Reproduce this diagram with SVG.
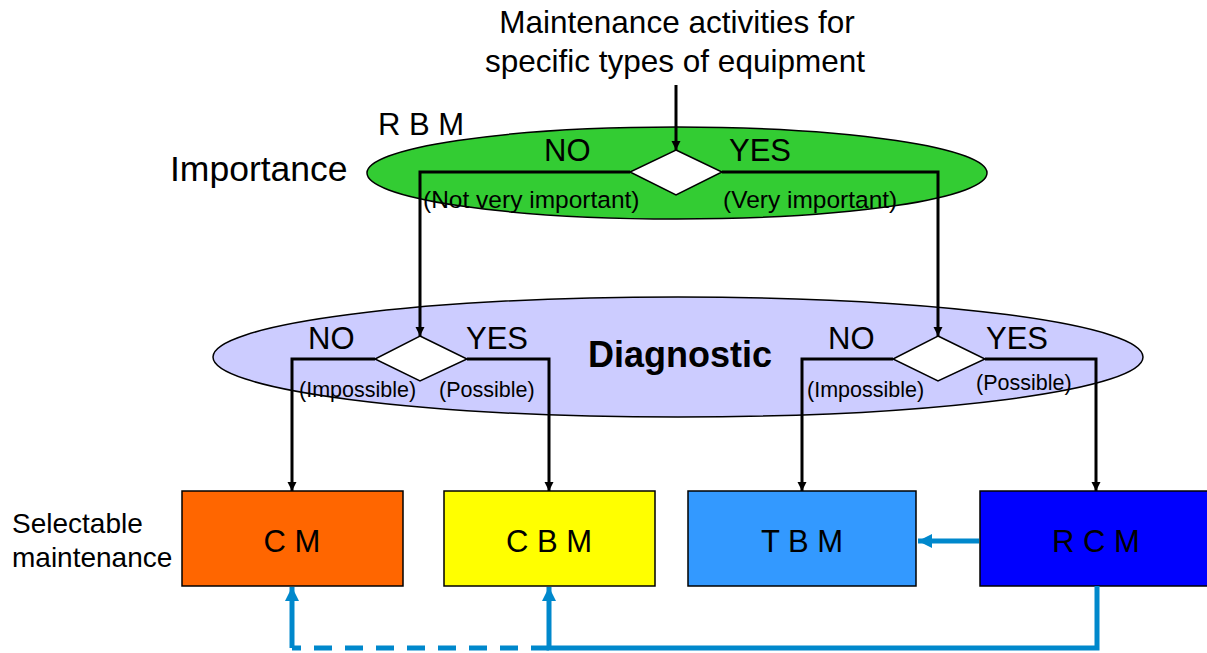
<svg xmlns="http://www.w3.org/2000/svg" width="1207" height="653" viewBox="0 0 1207 653">
<defs>
<style>
text{font-family:"Liberation Sans",Arial,sans-serif;fill:#000}
.conn{fill:none;stroke:#000;stroke-width:3}
.blue{fill:none;stroke:#0088CC;stroke-width:5}
.box{stroke:#000;stroke-width:1.5}
.dia{fill:#fff;stroke:#000;stroke-width:1.5}
.yn{font-size:31px}
.sub{font-size:24.5px}
.sub2{font-size:21.5px}
.bx{font-size:31px;text-anchor:middle}
</style>
<marker id="ab" viewBox="0 0 10 10" refX="10" refY="5" markerWidth="9" markerHeight="11" markerUnits="userSpaceOnUse" orient="auto"><path d="M0,0 L10,5 L0,10 Z" fill="#000"/></marker>
<marker id="ac" viewBox="0 0 10 10" refX="10" refY="5" markerWidth="16" markerHeight="14" markerUnits="userSpaceOnUse" orient="auto"><path d="M0,0 L10,5 L0,10 Z" fill="#0088CC"/></marker>
</defs>
<rect width="1207" height="653" fill="#fff"/>

<g id="title">
<text x="677" y="33" font-size="31.5" text-anchor="middle">Maintenance activities for</text>
<text x="675" y="72" font-size="31.5" text-anchor="middle">specific types of equipment</text>
</g>

<g id="importance">
<ellipse cx="677" cy="173" rx="310" ry="46" fill="#33CC33" stroke="#000" stroke-width="1.5"/>
<polygon class="dia" points="676,150 722,172 676,195 630,172"/>
<text x="378" y="135" font-size="31">R B M</text>
<text x="170" y="181" font-size="35.5">Importance</text>
<text class="yn" x="544" y="161">NO</text>
<text class="yn" x="729" y="161">YES</text>
<text class="sub" x="423" y="208">(Not very important)</text>
<text class="sub" x="723" y="208">(Very important)</text>
</g>

<g id="diagnostic">
<ellipse cx="678" cy="357" rx="465" ry="60" fill="#CCCCFF" stroke="#000" stroke-width="1.5"/>
<polygon class="dia" points="420,336 467,359 420,381 375,359"/>
<polygon class="dia" points="938,336 985,359 938,381 893,359"/>
<text x="680" y="367" font-size="36" font-weight="bold" text-anchor="middle">Diagnostic</text>
<text class="yn" x="308" y="349">NO</text>
<text class="yn" x="466" y="349">YES</text>
<text class="sub2" x="299" y="397">(Impossible)</text>
<text class="sub2" x="439" y="397">(Possible)</text>
<text class="yn" x="828" y="349">NO</text>
<text class="yn" x="986" y="349">YES</text>
<text class="sub2" x="807" y="397">(Impossible)</text>
<text class="sub2" x="976" y="390">(Possible)</text>
</g>

<g id="label-selectable">
<text x="12" y="533" font-size="28">Selectable</text>
<text x="12" y="567" font-size="28">maintenance</text>
</g>

<g id="cm">
<rect class="box" x="182" y="491" width="221" height="95" fill="#FF6600"/>
<text class="bx" x="292" y="552">C M</text>
</g>
<g id="cbm">
<rect class="box" x="444" y="491" width="211" height="95" fill="#FFFF00"/>
<text class="bx" x="549" y="552">C B M</text>
</g>
<g id="tbm">
<rect class="box" x="688" y="491" width="228" height="95" fill="#3399FF"/>
<text class="bx" x="802" y="552">T B M</text>
</g>
<g id="rcm">
<rect class="box" x="980" y="491" width="240" height="95" fill="#0000FF"/>
<text class="bx" x="1096" y="552">R C M</text>
</g>

<g id="connectors">
<path class="conn" d="M676,85 V150" marker-end="url(#ab)"/>
<path class="conn" d="M630,172 H420 V336" marker-end="url(#ab)"/>
<path class="conn" d="M722,172 H938 V336" marker-end="url(#ab)"/>
<path class="conn" d="M375,359 H292 V491" marker-end="url(#ab)"/>
<path class="conn" d="M467,359 H549 V491" marker-end="url(#ab)"/>
<path class="conn" d="M893,359 H802 V491" marker-end="url(#ab)"/>
<path class="conn" d="M985,359 H1096 V491" marker-end="url(#ab)"/>
<path class="blue" d="M979,541 H918" marker-end="url(#ac)"/>
<path class="blue" d="M1097,586 V648 H549 V587" marker-end="url(#ac)"/>
<path class="blue" d="M549,648 H292" stroke-dasharray="18,13"/>
<path class="blue" d="M292,648 V587" marker-end="url(#ac)"/>
</g>
</svg>
